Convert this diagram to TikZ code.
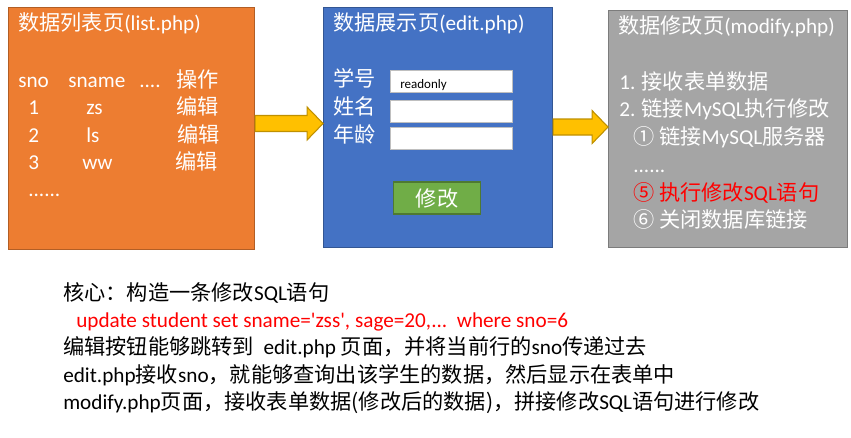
\documentclass[tikz,border=0pt]{standalone}
\usepackage{fontspec}
\setmainfont{Carlito}[Ligatures=TeXOff]
\newfontfamily\zhfont{Noto Sans CJK SC}
\newcommand\zh[1]{{\zhfont #1}}
\usetikzlibrary{positioning, calc}
\definecolor{listcol}{HTML}{ED7D31}
\definecolor{editcol}{HTML}{4472C4}
\definecolor{modcol}{HTML}{A5A5A5}
\definecolor{arrcol}{HTML}{FFC000}
\definecolor{btncol}{HTML}{70AD47}
\definecolor{fieldline}{HTML}{BFBFBF}

% block arrow: start point, total length, head length
\newcommand\blockarrow[3]{%
  \draw[flowarr] (#1) ++(0,-8) -- ++({#2-#3},0) -- ++(0,-8.5) -- ++(#3,16.5)
    -- ++(-#3,16.5) -- ++(0,-8.5) -- ++({-(#2-#3)},0) -- cycle;}

\begin{document}
\begin{tikzpicture}[x=0.75pt, y=-0.75pt,
  pagebox/.style={
    rectangle, draw=#1!75!black, fill=#1,
    line width=0.8pt, anchor=north west, inner sep=0pt
  },
  txt/.style={
    anchor=base west, inner sep=0pt, text=white,
    font=\fontsize{15.9}{19}\selectfont
  },
  note/.style={txt, text=black},
  field/.style={
    rectangle, draw=fieldline, fill=white, line width=0.8pt,
    anchor=north west, minimum width=91.5pt, minimum height=16.5pt
  },
  flowarr/.style={
    draw=arrcol!75!black, fill=arrcol, line width=0.8pt, line join=miter
  }
]
\useasboundingbox (0,0) rectangle (851,438);

% the three pages
\node[pagebox=listcol, minimum width=184.5pt,  minimum height=181.5pt] (list)   at (8,7)   {};
\node[pagebox=editcol, minimum width=171.75pt, minimum height=180pt]   (edit)   at (323,7) {};
\node[pagebox=modcol,  minimum width=179.25pt, minimum height=177.75pt] (modify) at (608,10) {};

% list.php
\node[txt] (ltitle) at (18,31)  {\zh{数据列表页}(list.php)};
\node[txt] (lc1)    at (18,88)  {sno};
\node[txt] (lc2)    at (68,88)  {sname};
\node[txt] (lc3)    at (139,88) {....};
\node[txt] (lc4)    at (176,88) {\zh{操作}};
\node[txt] (l1a)    at (28,115) {1};
\node[txt] (l1b)    at (86,115) {zs};
\node[txt] (l1c)    at (176,115) {\zh{编辑}};
\node[txt] (l2a)    at (28,143) {2};
\node[txt] (l2b)    at (86,143) {ls};
\node[txt] (l2c)    at (177,143) {\zh{编辑}};
\node[txt] (l3a)    at (28,170) {3};
\node[txt] (l3b)    at (82,170) {ww};
\node[txt] (l3c)    at (175,170) {\zh{编辑}};
\node[txt] (lmore)  at (28,197) {......};

% edit.php
\node[txt] (etitle) at (333,31)  {\zh{数据展示页}(edit.php)};
\node[txt] (eno)    at (333,87)  {\zh{学号}};
\node[txt] (ename)  at (333,115) {\zh{姓名}};
\node[txt] (eage)   at (333,143) {\zh{年龄}};
\node[field] (fno)   at (390,70)  {};
\node[field] (fname) at (390,100) {};
\node[field] (fage)  at (390,127) {};
\node[anchor=base west, inner sep=0pt, font=\fontsize{9.75}{12}\selectfont]
  (ronly) at (400,89) {readonly};
\node[rectangle, draw=btncol!70!black, fill=btncol, line width=0.8pt,
      minimum width=65.25pt, minimum height=24pt, inner sep=0pt,
      text=white, font=\fontsize{15.9}{19}\selectfont]
  (btn) at (437,198) {\zh{修改}};

% modify.php
\node[txt] (mtitle) at (618,34)  {\zh{数据修改页}(modify.php)};
\node[txt] (m1)     at (619,90)  {1. \zh{接收表单数据}};
\node[txt] (m2)     at (619,117) {2. \zh{链接}MySQL\zh{执行修改}};
\node[txt] (m2a)    at (633,145) {\zh{① 链接}MySQL\zh{服务器}};
\node[txt] (m2b)    at (633,173) {......};
\node[txt, text=red] (m2e) at (633,201) {\zh{⑤ 执行修改}SQL\zh{语句}};
\node[txt] (m2f)    at (633,228) {\zh{⑥ 关闭数据库链接}};

% arrows between pages
\coordinate (a1) at ($(list.east)+(0,-5)$);
\coordinate (a2) at ($(edit.east)+(0,-0.5)$);
\blockarrow{a1}{68}{16}
\blockarrow{a2}{55}{16}

% notes
\node[note] (n1) at (63,301) {\zh{核心：构造一条修改}SQL\zh{语句}};
\node[note, text=red] (n2) at (76,328) {update student set sname='zss', sage=20,...\ \ where sno=6};
\node[note] (n3) at (63,355) {\zh{编辑按钮能够跳转到}\ \ edit.php \zh{页面，并将当前行的}sno\zh{传递过去}};
\node[note] (n4) at (63,383) {edit.php\zh{接收}sno\zh{，就能够查询出该学生的数据，然后显示在表单中}};
\node[note] (n5) at (63,410) {modify.php\zh{页面，接收表单数据(修改后的数据)，拼接修改}SQL\zh{语句进行修改}};
\end{tikzpicture}
\end{document}
